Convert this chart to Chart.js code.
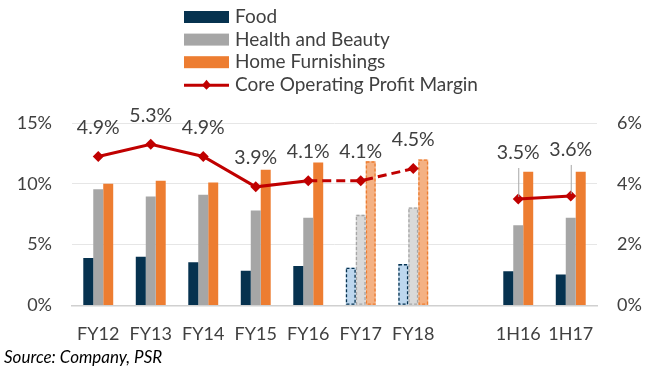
<!DOCTYPE html>
<html>
<head>
<meta charset="utf-8">
<style>
  html, body { margin: 0; padding: 0; background: #fff; }
  #wrap { width: 651px; height: 374px; }
</style>
</head>
<body>
<div id="wrap"><canvas id="chart" width="651" height="374"></canvas></div>
<script src="https://cdn.jsdelivr.net/npm/chart.js"></script>
<script>
  // data (bars on left axis, margin on right axis)
  const periods = ['FY12', 'FY13', 'FY14', 'FY15', 'FY16', 'FY17', 'FY18', '', '1H16', '1H17'];
  const food = [3.9, 4.0, 3.55, 2.85, 3.25, 3.1, 3.4, null, 2.8, 2.55];
  const healthBeauty = [9.55, 8.95, 9.1, 7.8, 7.2, 7.45, 8.05, null, 6.6, 7.2];
  const homeFurnishings = [10.0, 10.25, 10.1, 11.15, 11.75, 11.85, 12.0, null, 11.0, 11.0];
  const coreMargin = [4.9, 5.3, 4.9, 3.9, 4.1, 4.1, 4.5, null, 3.5, 3.6];
  const isForecast = [false, false, false, false, false, true, true, false, false, false];
  const leftTicks = [0, 5, 10, 15];
  const rightTicks = [0, 2, 4, 6];

  const FONT = 'Lato, "Open Sans", sans-serif';
  const TEXT = '#404040';

  function barSet(label, data, solid, light, edge) {
    return {
      type: 'bar',
      label: label,
      data: data,
      yAxisID: 'y',
      order: 1,
      backgroundColor: data.map((v, i) => isForecast[i] ? light : solid),
      legendColor: solid,
      edgeColor: edge,
      borderWidth: 0,
      barPercentage: 1.0,
      categoryPercentage: 0.57
    };
  }

  // dashed outline for the forecast bars
  const dashedBars = {
    id: 'dashedBars',
    afterDatasetDraw(chart, args) {
      const ds = chart.data.datasets[args.index];
      if (ds.type !== 'bar') return;
      const ctx = chart.ctx;
      ctx.save();
      ctx.strokeStyle = ds.edgeColor;
      ctx.lineWidth = 1.3;
      ctx.setLineDash([3, 2]);
      args.meta.data.forEach((bar, i) => {
        if (!isForecast[i] || ds.data[i] == null) return;
        const p = bar.getProps(['x', 'y', 'base', 'width'], true);
        ctx.strokeRect(p.x - p.width / 2 + 0.7, p.y + 0.7, p.width - 1.4, p.base - p.y - 1.4);
      });
      ctx.restore();
    }
  };

  // value labels above the margin line, the half-year ones with a leader line
  const marginLabels = {
    id: 'marginLabels',
    afterDatasetsDraw(chart) {
      const idx = chart.data.datasets.findIndex(d => d.type === 'line');
      const meta = chart.getDatasetMeta(idx);
      const gap = periods.indexOf('');
      const ctx = chart.ctx;
      ctx.save();
      ctx.font = '19.5px ' + FONT;
      ctx.textAlign = 'center';
      ctx.textBaseline = 'middle';
      meta.data.forEach((pt, i) => {
        const v = coreMargin[i];
        if (v == null) return;
        const callout = i > gap;
        const ty = pt.y - (callout ? 46 : 29);
        if (callout) {
          ctx.strokeStyle = '#a6a6a6';
          ctx.lineWidth = 1;
          ctx.beginPath();
          ctx.moveTo(pt.x + 0.5, ty + 15);
          ctx.lineTo(pt.x + 0.5, pt.y - 2);
          ctx.stroke();
        }
        ctx.fillStyle = TEXT;
        ctx.fillText(v.toFixed(1) + '%', pt.x, ty);
      });
      ctx.restore();
    }
  };

  // stacked legend at the top, centred
  const stackLegend = {
    id: 'stackLegend',
    afterDraw(chart) {
      const ctx = chart.ctx;
      ctx.save();
      ctx.font = '19px ' + FONT;
      ctx.textBaseline = 'middle';
      chart.data.datasets.forEach((ds, i) => {
        const y = 17 + i * 22.6;
        const x = 184;
        if (ds.type === 'bar') {
          ctx.fillStyle = ds.legendColor;
          ctx.fillRect(x, y - 6, 45, 12);
        } else {
          ctx.strokeStyle = ds.borderColor;
          ctx.lineWidth = 3;
          ctx.beginPath();
          ctx.moveTo(x, y + 0.5);
          ctx.lineTo(x + 45, y + 0.5);
          ctx.stroke();
          ctx.fillStyle = ds.borderColor;
          ctx.beginPath();
          ctx.moveTo(x + 22.5, y - 5);
          ctx.lineTo(x + 27, y + 0.5);
          ctx.lineTo(x + 22.5, y + 5);
          ctx.lineTo(x + 18, y + 0.5);
          ctx.closePath();
          ctx.fill();
        }
        ctx.fillStyle = TEXT;
        ctx.fillText(ds.label, 235, y);
      });
      ctx.restore();
    }
  };

  // source note
  const sourceNote = {
    id: 'sourceNote',
    afterDraw(chart) {
      const ctx = chart.ctx;
      ctx.save();
      ctx.font = 'italic 17px ' + FONT;
      ctx.fillStyle = '#000';
      ctx.textBaseline = 'middle';
      ctx.fillText('Source: Company, PSR', 4, 358);
      ctx.restore();
    }
  };

  new Chart(document.getElementById('chart'), {
    data: {
      labels: periods,
      datasets: [
        barSet('Food', food, '#06324f', '#bdd7ee', '#06324f'),
        barSet('Health and Beauty', healthBeauty, '#a6a6a6', '#d9d9d9', '#a6a6a6'),
        barSet('Home Furnishings', homeFurnishings, '#ed7d31', '#f4b183', '#ed7d31'),
        {
          type: 'line',
          label: 'Core Operating Profit Margin',
          data: coreMargin,
          yAxisID: 'y1',
          order: 0,
          borderColor: '#c00000',
          backgroundColor: '#c00000',
          borderWidth: 3,
          pointStyle: 'rectRot',
          pointRadius: 5.5,
          pointBorderWidth: 0,
          tension: 0,
          spanGaps: false,
          segment: {
            borderDash: c => isForecast[c.p1DataIndex] ? [9, 5] : undefined
          }
        }
      ]
    },
    options: {
      responsive: false,
      animation: false,
      devicePixelRatio: 1,
      layout: { padding: { top: 123, bottom: 19, left: 0, right: 0 } },
      plugins: {
        legend: { display: false },
        tooltip: { enabled: false }
      },
      scales: {
        x: {
          grid: { display: false },
          border: { color: '#d0d0d0', width: 1.5 },
          ticks: { color: TEXT, font: { family: FONT, size: 18 }, padding: 10, maxRotation: 0, autoSkip: false }
        },
        y: {
          position: 'left',
          min: 0, max: 15,
          afterBuildTicks: s => { s.ticks = leftTicks.map(v => ({ value: v })); },
          afterFit: s => { s.width = 72; },
          grid: { color: '#e6e6e6', drawTicks: false },
          border: { display: false },
          ticks: { color: TEXT, font: { family: FONT, size: 18 }, padding: 20, callback: v => v + '%' }
        },
        y1: {
          position: 'right',
          min: 0, max: 6,
          afterBuildTicks: s => { s.ticks = rightTicks.map(v => ({ value: v })); },
          afterFit: s => { s.width = 54; },
          grid: { display: false, drawTicks: false },
          border: { display: false },
          ticks: { color: TEXT, font: { family: FONT, size: 18 }, padding: 20, callback: v => v + '%' }
        }
      }
    },
    plugins: [dashedBars, marginLabels, stackLegend, sourceNote]
  });
</script>
</body>
</html>
